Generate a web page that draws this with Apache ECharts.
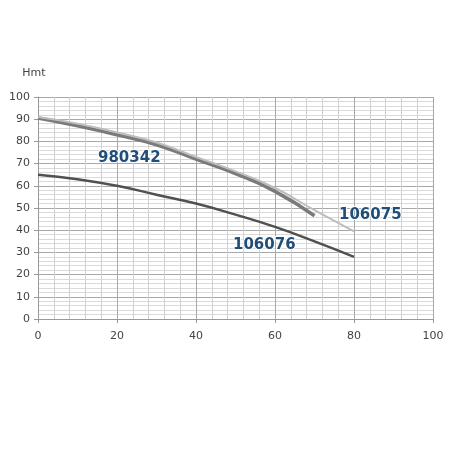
<!DOCTYPE html>
<html>
<head>
<meta charset="utf-8">
<script src="https://cdn.jsdelivr.net/npm/echarts@6/dist/echarts.min.js"></script>
<style>
  html, body { margin: 0; padding: 0; background: #fff; }
  #chart { width: 452px; height: 452px; }
</style>
</head>
<body>
<div id="chart"></div>
<script>
// portata (x) / prevalenza Hmt (y)
const s106076 = [[0, 65], [10, 63], [20, 60], [30, 56], [40, 52], [50, 47], [60, 41.5], [70, 35], [80, 28]];
const s980342 = [[0, 90.5], [10, 87], [20, 83], [30, 78.5], [40, 72], [50, 65.5], [60, 57.5], [70, 46.5]];
const s106075 = [[0, 91], [10, 88], [20, 84], [30, 79.5], [40, 73], [50, 66.5], [60, 59], [70, 49], [80, 39.5]];
const curveNames = ['106076', '980342', '106075'];

const chart = echarts.init(document.getElementById('chart'));

const labelFont = { fontFamily: 'DejaVu Sans', fontSize: 11, color: '#444' };
const tagStyle = { fontFamily: 'DejaVu Sans', fontSize: 15, fontWeight: 'bold', fill: '#1f4e79',
  stroke: '#fff', lineWidth: 2 };

const option = {
  backgroundColor: '#fff',
  animation: false,
  grid: { left: 38, right: 19, top: 97, bottom: 133 },
  xAxis: {
    type: 'value', min: 0, max: 100, interval: 20,
    axisLine: { show: true, lineStyle: { color: '#999' } },
    axisTick: { show: true, length: 4, lineStyle: { color: '#999' } },
    axisLabel: Object.assign({ margin: 12 }, labelFont),
    splitLine: { show: true, lineStyle: { color: '#a8a8a8', width: 1 } },
    minorTick: { show: false, splitNumber: 5 },
    minorSplitLine: { show: true, lineStyle: { color: '#d0d0d0', width: 1 } }
  },
  yAxis: {
    type: 'value', min: 0, max: 100, interval: 10,
    name: 'Hmt', nameGap: 18,
    nameTextStyle: Object.assign({ align: 'center', padding: [0, 0, 0, -8] }, labelFont),
    axisLine: { show: true, lineStyle: { color: '#999' } },
    axisTick: { show: true, length: 4, lineStyle: { color: '#999' } },
    axisLabel: Object.assign({ margin: 8 }, labelFont),
    splitLine: { show: true, lineStyle: { color: '#a8a8a8', width: 1 } },
    minorTick: { show: false, splitNumber: 5 },
    minorSplitLine: { show: true, lineStyle: { color: '#dadada', width: 1 } }
  },
  series: [
    { name: curveNames[0], type: 'line', data: s106076, smooth: true, symbol: 'none',
      lineStyle: { color: '#505050', width: 2.5 } },
    { name: curveNames[1], type: 'line', data: s980342, smooth: true, symbol: 'none',
      lineStyle: { color: '#7a7a7a', width: 3.5 } },
    { name: curveNames[2], type: 'line', data: s106075, smooth: true, symbol: 'none',
      lineStyle: { color: '#bdbdbd', width: 2 } }
  ],
  graphic: [
    { type: 'text', z: 100, left: 97, top: 150, style: Object.assign({ text: curveNames[1] }, tagStyle) },
    { type: 'text', z: 100, left: 338, top: 207, style: Object.assign({ text: curveNames[2] }, tagStyle) },
    { type: 'text', z: 100, left: 232, top: 237, style: Object.assign({ text: curveNames[0] }, tagStyle) }
  ]
};

chart.setOption(option);
window.addEventListener('resize', () => chart.resize());
</script>
</body>
</html>
